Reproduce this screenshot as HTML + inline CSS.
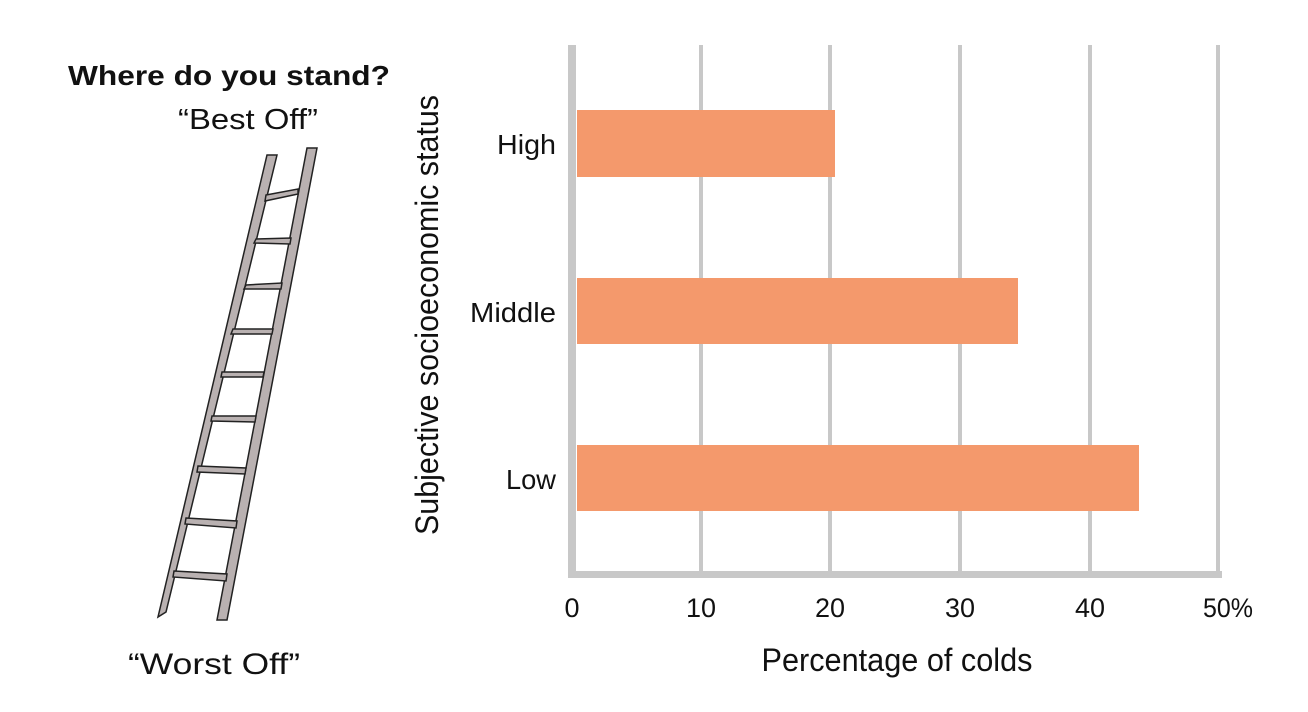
<!DOCTYPE html>
<html><head><meta charset="utf-8"><style>
body{margin:0;width:1308px;height:707px;background:#fff;overflow:hidden;font-family:"Liberation Sans",sans-serif;}
</style></head><body>
<svg width="1308" height="707" xmlns="http://www.w3.org/2000/svg" font-family="Liberation Sans, sans-serif">
<text x="68" y="85" font-size="28" font-weight="bold" fill="#111" textLength="322" lengthAdjust="spacingAndGlyphs">Where do you stand?</text>
<text x="178" y="129" font-size="29" fill="#111" textLength="140" lengthAdjust="spacingAndGlyphs">“Best Off”</text>
<text x="128" y="674" font-size="30" fill="#111" textLength="172" lengthAdjust="spacingAndGlyphs">“Worst Off”</text>
<g stroke="#222" stroke-width="1.5" fill="#b9b1b1">
<polygon points="267,155 277,155 166,612 158,617"/>
<polygon points="307,148 317,148 227,620 217,620"/>
<g>
<polygon points="266,195 298,189 298,194 265,201"/>
<polygon points="256,239 291,238 290,244 254,243"/>
<polygon points="246,285 282,283 281,289 244,289"/>
<polygon points="233,329 273,329 272,334 231,334"/>
<polygon points="222,372 264,372 263,377 221,377"/>
<polygon points="212,416 256,416 255,422 211,421"/>
<polygon points="198,466 246,468 245,474 197,472"/>
<polygon points="186,518 237,521 236,528 185,524"/>
<polygon points="174,571 227,574 226,581 173,577"/>
</g>
</g>
<g fill="#c8c8c8">
<rect x="699" y="45" width="4" height="530"/>
<rect x="828" y="45" width="4" height="530"/>
<rect x="958" y="45" width="4" height="530"/>
<rect x="1088" y="45" width="4" height="530"/>
<rect x="1216" y="45" width="4" height="530"/>
<rect x="568" y="45" width="8" height="533"/>
<rect x="568" y="571" width="654" height="7"/>
</g>
<g fill="#f4996c">
<rect x="577" y="110" width="258" height="67"/>
<rect x="577" y="278" width="441" height="66"/>
<rect x="577" y="445" width="562" height="66"/>
</g>
<g font-size="28" fill="#111">
<text x="497" y="154" textLength="59" lengthAdjust="spacingAndGlyphs">High</text>
<text x="470" y="322" textLength="86" lengthAdjust="spacingAndGlyphs">Middle</text>
<text x="506" y="489" textLength="50" lengthAdjust="spacingAndGlyphs">Low</text>
</g>
<g font-size="27" fill="#111" text-anchor="middle">
<text x="572" y="617">0</text>
<text x="701" y="617">10</text>
<text x="830" y="617">20</text>
<text x="960" y="617">30</text>
<text x="1090" y="617">40</text>
<text x="1228" y="617" textLength="50" lengthAdjust="spacingAndGlyphs">50%</text>
<text x="897" y="671" font-size="32" textLength="271" lengthAdjust="spacingAndGlyphs">Percentage of colds</text>
</g>
<text transform="translate(438,315) rotate(-90)" font-size="32" fill="#111" text-anchor="middle" textLength="440" lengthAdjust="spacingAndGlyphs">Subjective socioeconomic status</text>
</svg>
</body></html>
